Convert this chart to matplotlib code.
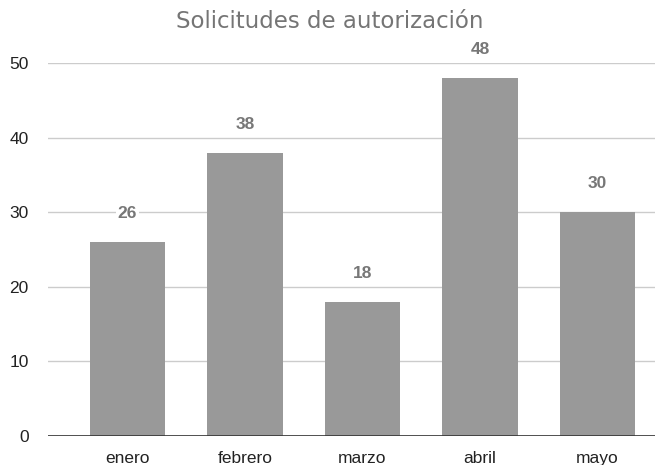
import matplotlib.pyplot as plt

# datos de solicitudes por mes
meses = ['enero', 'febrero', 'marzo', 'abril', 'mayo']
solicitudes = [26, 38, 18, 48, 30]
ticks_y = [0, 10, 20, 30, 40, 50]

fig = plt.figure(figsize=(6.6, 4.65), dpi=100)
ax = fig.add_axes([48 / 660, 29 / 465, 607 / 660, 373 / 465])

pos = range(len(meses))
ax.bar(pos, solicitudes, width=0.64, color='#999999', zorder=3)

# etiquetas con el valor encima de cada barra
for x, v in zip(pos, solicitudes):
  ax.annotate(str(v), (x, v), xytext=(0, 20.5), textcoords='offset points',
              ha='center', va='center', fontsize=12.5, fontweight='bold',
              color='#777777', family='Liberation Sans', clip_on=False,
              bbox=dict(facecolor='white', edgecolor='none', pad=1.5), zorder=5)

ax.set_xlim(-0.677, 4.49)
ax.set_ylim(0, 50)
ax.set_yticks(ticks_y)
ax.set_xticks(list(pos))
ax.set_xticklabels(meses)
ax.grid(axis='y', color='#cccccc', linewidth=1, zorder=0)
ax.axhline(0, color='#333333', linewidth=1.2, zorder=4)

for s in ax.spines.values():
  s.set_visible(False)
ax.tick_params(length=0, labelsize=12.5, colors='#222222', pad=11)
ax.tick_params(axis='y', pad=14)
for lab in ax.get_xticklabels() + ax.get_yticklabels():
  lab.set_family('Liberation Sans')

fig.text(0.5, 1 - 21 / 465, 'Solicitudes de autorización', ha='center', va='center',
         fontsize=16.5, color='#757575', family='DejaVu Sans')

plt.savefig('out.png')
plt.close()
